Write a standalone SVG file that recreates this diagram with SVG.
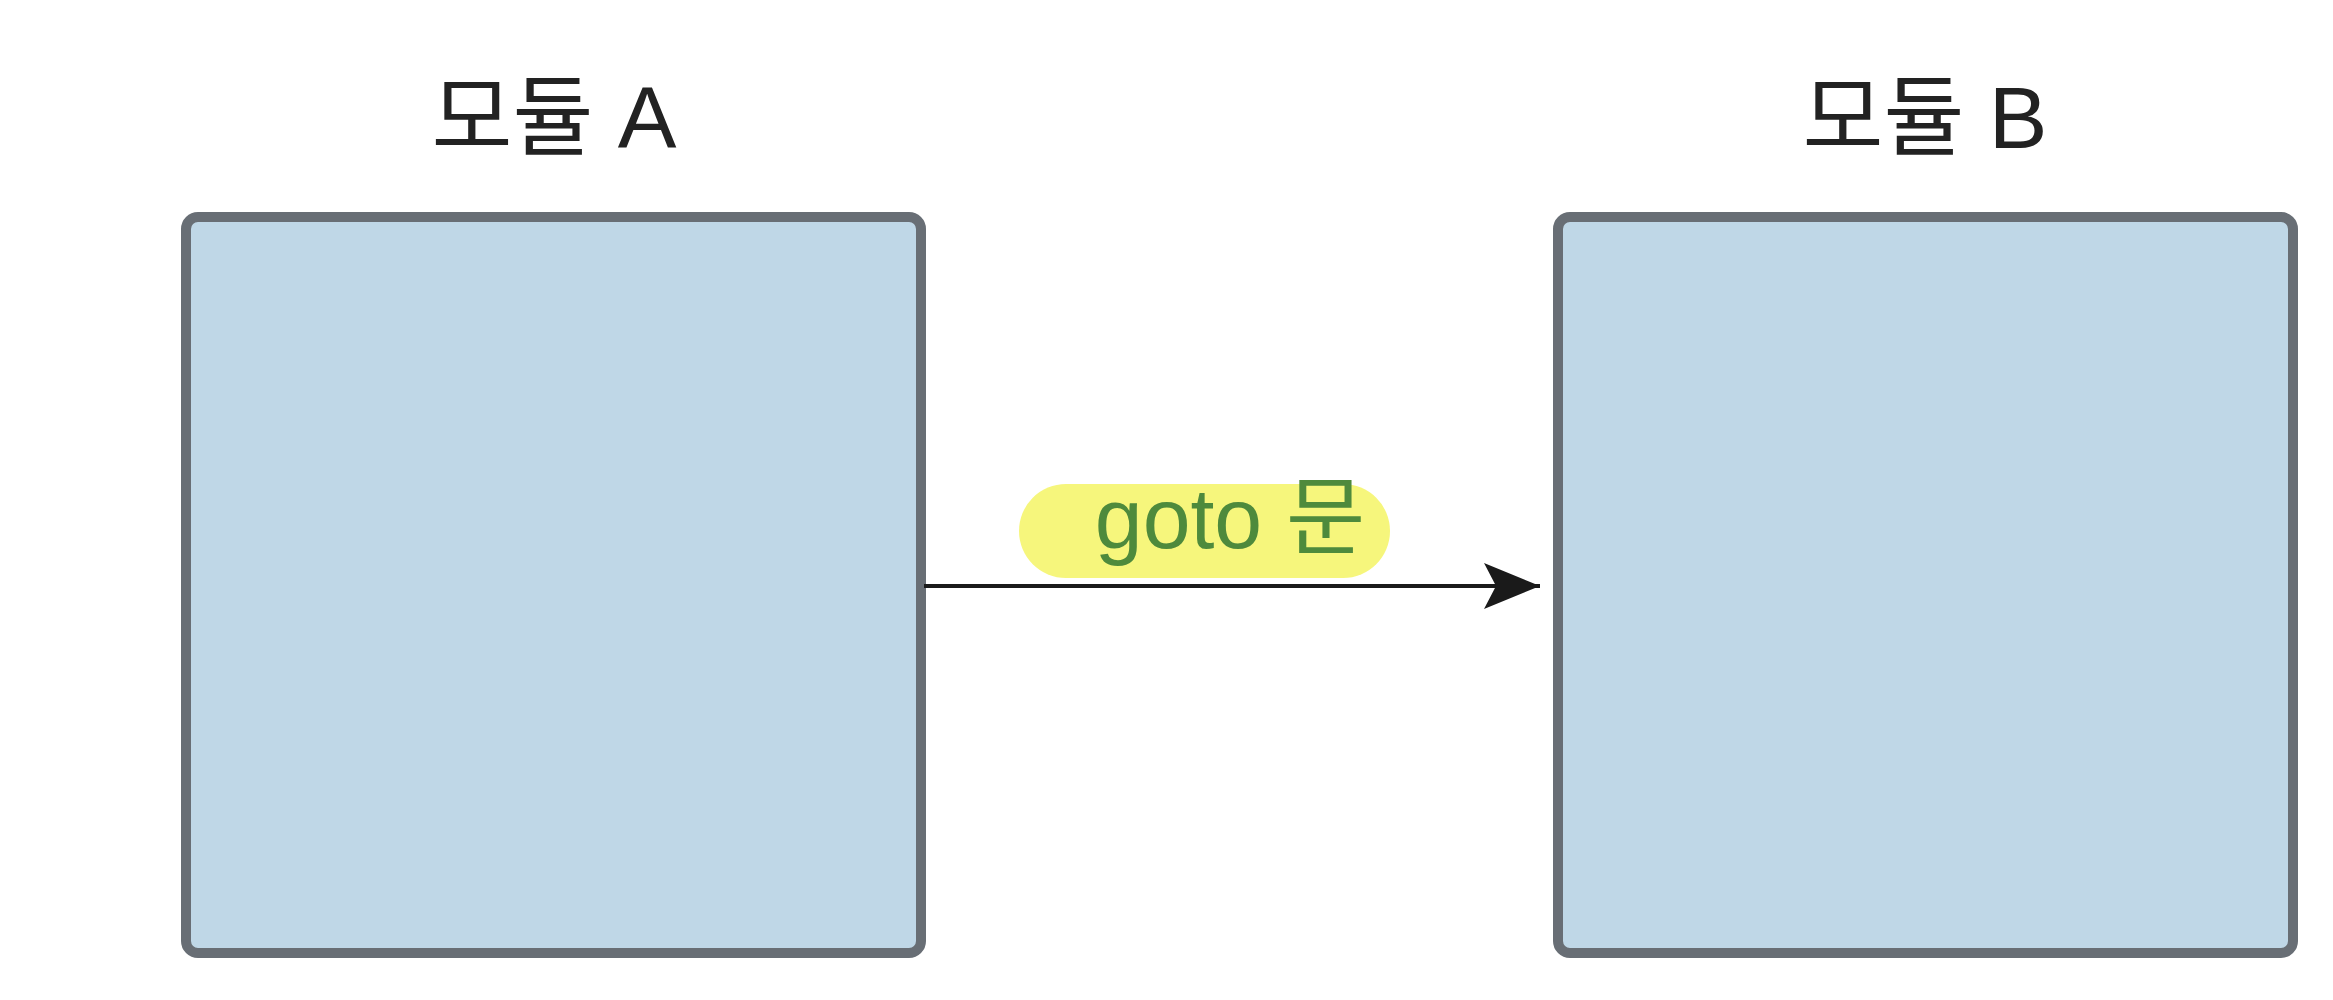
<svg xmlns="http://www.w3.org/2000/svg" width="2333" height="1000" viewBox="0 0 2333 1000">
  <defs>
    <style>
      .box { fill: #bfd7e7; stroke: #686e75; stroke-width: 10; }
      .title { font-family: "Liberation Sans", "Noto Sans CJK KR", sans-serif; font-size: 88px; fill: #222222; text-anchor: middle; }
      .label { font-family: "Liberation Sans", "Noto Sans CJK KR", sans-serif; font-size: 86px; fill: #4e8a3c; text-anchor: middle; }
      .conn { stroke: #1a1a1a; stroke-width: 4; fill: none; }
    </style>
    <marker id="arrow" markerUnits="userSpaceOnUse" markerWidth="60" markerHeight="50" refX="56" refY="23" orient="auto">
      <path d="M0,0 L56,23 L0,46 L12,23 Z" fill="#1a1a1a"/>
    </marker>
  </defs>
  <rect width="2333" height="1000" fill="#ffffff"/>
  <g id="moduleA">
    <rect class="box" x="186" y="217" width="735" height="736" rx="12" ry="12"/>
    <text class="title" x="554" y="148">모듈 A</text>
  </g>
  <g id="moduleB">
    <rect class="box" x="1558" y="217" width="735" height="736" rx="12" ry="12"/>
    <text class="title" x="1925" y="148">모듈 B</text>
  </g>
  <g id="connectors">
    <line class="conn" x1="924" y1="586" x2="1540" y2="586" marker-end="url(#arrow)"/>
    <g id="label-goto">
      <rect x="1019" y="484" width="371" height="94" rx="47" ry="47" fill="#f6f67c"/>
      <text class="label" x="1230" y="548">goto 문</text>
    </g>
  </g>
</svg>
